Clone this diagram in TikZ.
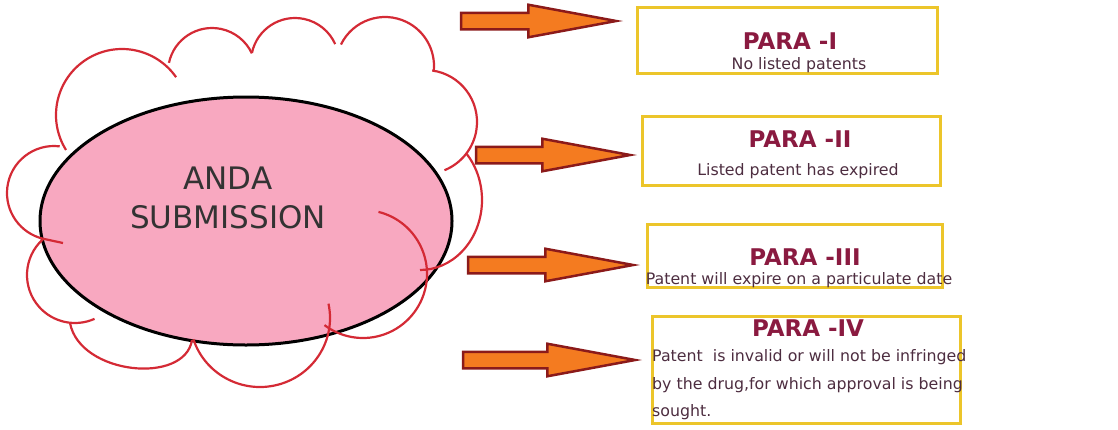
\documentclass[tikz,border=0pt]{standalone}
\usepackage{fontspec}
\setmainfont{DejaVu Sans}
\usepackage{xcolor}
\usepackage{tikz}
\usetikzlibrary{shapes,arrows,positioning,calc}
\definecolor{cloudred}{HTML}{D42A35}
\definecolor{andapink}{HTML}{F8A8C0}
\definecolor{arrowfill}{HTML}{F47B20}
\definecolor{arrowline}{HTML}{8B1A1A}
\definecolor{boxyellow}{HTML}{ECC52A}
\definecolor{paracol}{HTML}{8A1A40}
\definecolor{textcol}{HTML}{4D2D40}
\tikzstyle{cloudline} = [draw=cloudred, line width=2.2pt]
\tikzstyle{parabox} = [rectangle, draw=boxyellow, line width=3pt]
\tikzstyle{parahead} = [font=\bfseries\fontsize{23}{27}\selectfont, text=paracol, inner sep=1pt]
\tikzstyle{paratext} = [font=\fontsize{15.8}{27.5}\selectfont, text=textcol, inner sep=1pt]
\tikzstyle{blockarrow} = [single arrow, draw=arrowline, fill=arrowfill, line width=2.5pt, inner xsep=0pt, inner ysep=7pt, single arrow head extend=8pt, single arrow tip angle=21, anchor=tip]

\begin{document}
\begin{tikzpicture}[x=1pt, y=-1pt]
    \useasboundingbox (0,0) rectangle (1118,429);
    % submission ellipse
    \node[ellipse, draw=black, line width=3pt, fill=andapink, minimum width=412pt, minimum height=248pt] (anda) at (246,221) {};
    \node[font=\fontsize{31}{39}\selectfont, text=black!80, align=center] (andalabel) at (228,198) {ANDA\\SUBMISSION};
    % cloud round it
    \draw[cloudline] (122,115) ++(148:66) arc[start angle=148, end angle=325, radius=66];
    \draw[cloudline] (212,72) ++(192:44) arc[start angle=192, end angle=335, radius=44];
    \draw[cloudline] (295,62) ++(192:44) arc[start angle=192, end angle=336, radius=44];
    \draw[cloudline] (385,66) ++(206:49) arc[start angle=206, end angle=365, radius=49];
    \draw[cloudline] (425,122) ++(278:52) arc[start angle=278, end angle=428, radius=52];
    \draw[cloudline] (420,200) ++(318:62 and 70) arc[start angle=318, end angle=450, x radius=62, y radius=70];
    \draw[cloudline] (363,274) ++(284:64) arc[start angle=284, end angle=487, radius=64];
    \draw[cloudline] (260,318) ++(-12:70 and 69) arc[start angle=-12, end angle=162, x radius=70, y radius=69];
    \draw[cloudline] (192,340) .. controls (185,385) and (80,375) .. (70,323);
    \draw[cloudline] (75,275) ++(228:48) arc[start angle=228, end angle=66, radius=48];
    \draw[cloudline] (54,193) ++(277:47) arc[start angle=277, end angle=103, radius=47] -- (63,243);
    % paragraph boxes
    \node[parabox, minimum width=300pt, minimum height=66pt] (boxI) at (787,40) {};
    \node[parabox, minimum width=298pt, minimum height=69pt] (boxII) at (791,150.5) {};
    \node[parabox, minimum width=295pt, minimum height=63pt] (boxIII) at (794.5,255.5) {};
    \node[parabox, minimum width=308pt, minimum height=107pt] (boxIV) at (806,369.5) {};
    \node[parahead] (headI) at (790,41) {PARA -I};
    \node[parahead] (headII) at (800,139) {PARA -II};
    \node[parahead] (headIII) at (805,257) {PARA -III};
    \node[parahead] (headIV) at (808,328) {PARA -IV};
    \node[paratext] (textI) at (799,65) {No listed patents};
    \node[paratext] (textII) at (798,171) {Listed patent has expired};
    \node[paratext] (textIII) at (799,280) {Patent will expire on a particulate date};
    \node[paratext, align=left, anchor=west] (textIV) at (651,385) {Patent\ \ is invalid or will not be infringed\\by the drug,for which approval is being\\sought.};
    % arrows
    \node[blockarrow, minimum height=155pt] (arrI) at (623,21) {};
    \node[blockarrow, minimum height=154pt] (arrII) at (637,155) {};
    \node[blockarrow, minimum height=165pt] (arrIII) at (640,265) {};
    \node[blockarrow, minimum height=172pt] (arrIV) at (642,360) {};
\end{tikzpicture}
\end{document}
